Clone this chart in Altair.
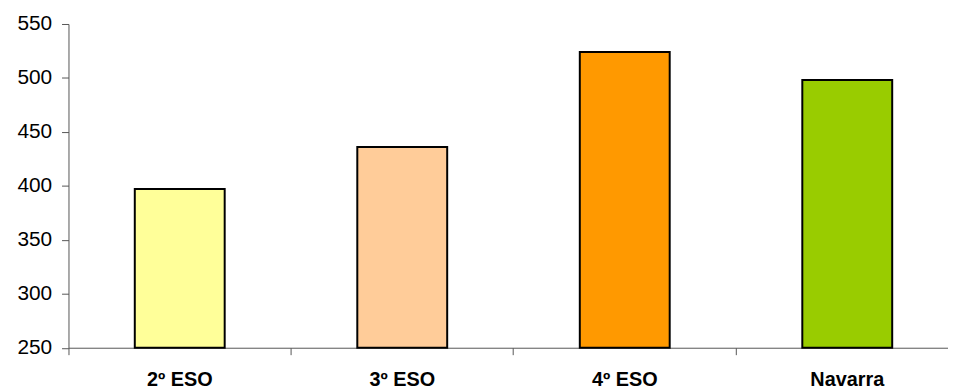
import altair as alt
import pandas as pd

categories = ["2º ESO", "3º ESO", "4º ESO", "Navarra"]
values = [397, 436, 524, 498]
colors = ["#FFFF99", "#FFCC99", "#FF9900", "#99CC00"]
y_ticks = [250, 300, 350, 400, 450, 500, 550]

df = pd.DataFrame({"cat": categories, "val": values})

FONT = "Liberation Sans, Arial, sans-serif"

bars = alt.Chart(df).mark_bar(
    width=alt.RelativeBandSize(0.404), stroke="black", strokeWidth=2
).encode(
    x=alt.X("cat:N", sort=categories, title=None,
            scale=alt.Scale(paddingInner=0, paddingOuter=0),
            axis=alt.Axis(bandPosition=0, labelAngle=0,
                          labelFont=FONT, labelFontSize=20, labelFontWeight="bold",
                          labelColor="black", labelPadding=15, tickSize=7,
                          tickColor="#555", domainColor="#555", labelBaseline="top")),
    y=alt.Y("val:Q", title=None,
            scale=alt.Scale(domain=[y_ticks[0], y_ticks[-1]], nice=False, zero=False),
            axis=alt.Axis(values=y_ticks, labelFont=FONT, labelFontSize=21,
                          labelColor="black", labelPadding=10, tickSize=7,
                          tickColor="#555", domainColor="#555", grid=False)),
    y2=alt.datum(y_ticks[0]),
    color=alt.Color("cat:N", sort=categories,
                    scale=alt.Scale(domain=categories, range=colors), legend=None),
)

chart = bars.properties(
    width=897.6, height=326.5,
    autosize=alt.AutoSizeParams(type="none"),
    padding={"left": 61, "top": 14.5, "right": -10.6, "bottom": 41},
).configure_view(stroke=None)

chart.save("out.html", embed_options={"renderer": "svg", "actions": False})
